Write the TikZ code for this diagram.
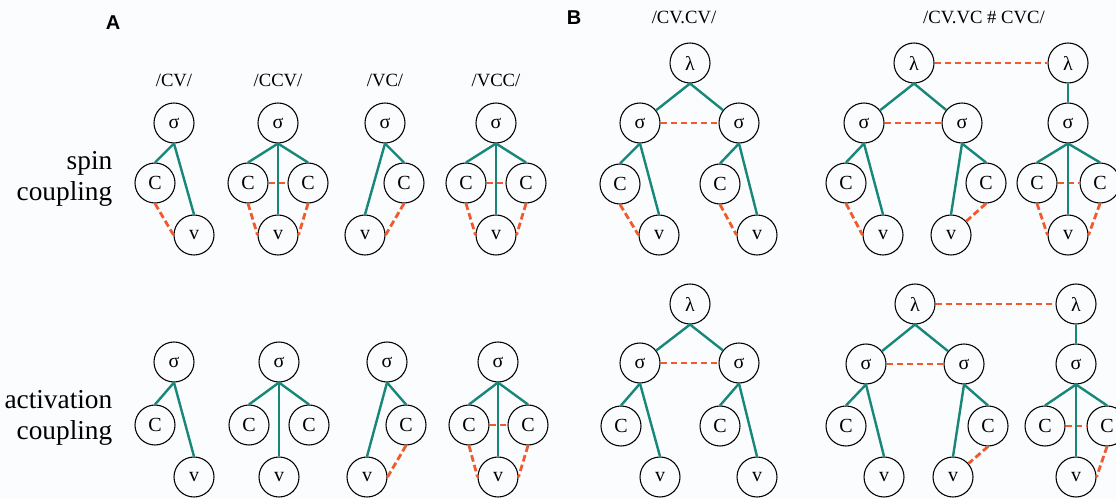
\documentclass[tikz,border=0pt]{standalone}
\usepackage{fontspec}
\setmainfont{Liberation Serif}
\newfontfamily\labsans{Liberation Sans}
\definecolor{tealline}{RGB}{22,135,120}
\definecolor{dashred}{RGB}{240,90,45}
\definecolor{bgcol}{RGB}{251,252,254}
\tikzset{
  nd/.style={circle, draw=black, line width=0.8pt, minimum size=30pt, inner sep=0pt, font=\fontsize{15}{17}\selectfont},
  gl/.style={draw=tealline, line width=1.8pt},
  dl/.style={draw=dashred, line width=2.1pt, dash pattern=on 5pt off 2.5pt},
  ttl/.style={font=\fontsize{14}{16}\selectfont, anchor=base},
  side/.style={font=\fontsize{20.5}{24}\selectfont, anchor=base east},
  panel/.style={font=\labsans\bfseries\fontsize{15}{17}\selectfont},
}
\begin{document}
\begin{tikzpicture}[x=0.75pt, y=-0.75pt]
\useasboundingbox (0,0) rectangle (1116,499);
\fill[bgcol] (0,0) rectangle (1116,499);
\clip (0,0) rectangle (1116,499);

% panel labels and titles
\node[panel] (pa) at (113,23) {A};
\node[panel] (pb) at (574,18) {B};
\node[ttl] (t1) at (174,87) {/CV/};
\node[ttl] (t2) at (278,87) {/CCV/};
\node[ttl] (t3) at (385,87) {/VC/};
\node[ttl] (t4) at (496,87) {/VCC/};
\node[ttl] (tb1) at (684,24) {/CV.CV/};
\node[ttl] (tb2) at (984,24) {/CV.VC \# CVC/};
\node[side] (spin) at (117,170) {spin};
\node[side] (coup1) at (117,200) {coupling};
\node[side] (act) at (117,408) {activation};
\node[side] (coup2) at (117,439) {coupling};

% ---------- Panel A, spin coupling ----------
\node[nd] (a1s) at (174,123) {σ};
\node[nd] (a1c) at (155,183) {C};
\node[nd] (a1v) at (194,235) {v};
\draw[gl] (a1s.south) -- (a1c.north);
\draw[gl] (a1s.south) -- (a1v.north);
\draw[dl] (a1c.south) -- (a1v.west);

\node[nd] (a2s) at (278,123) {σ};
\node[nd] (a2c) at (248,183) {C};
\node[nd] (a2d) at (308,183) {C};
\node[nd] (a2v) at (278,235) {v};
\draw[dl] (a2c.east) -- (a2d.west);
\draw[gl] (a2s.south) -- (a2c.north);
\draw[gl] (a2s.south) -- (a2d.north);
\draw[gl] (a2s.south) -- (a2v.north);
\draw[dl] (a2c.south) -- (a2v.west);
\draw[dl] (a2d.south) -- (a2v.east);

\node[nd] (a3s) at (385,123) {σ};
\node[nd] (a3c) at (404,183) {C};
\node[nd] (a3v) at (365,235) {v};
\draw[gl] (a3s.south) -- (a3c.north);
\draw[gl] (a3s.south) -- (a3v.north);
\draw[dl] (a3c.south) -- (a3v.east);

\node[nd] (a4s) at (496,123) {σ};
\node[nd] (a4c) at (466,183) {C};
\node[nd] (a4d) at (526,183) {C};
\node[nd] (a4v) at (496,235) {v};
\draw[dl] (a4c.east) -- (a4d.west);
\draw[gl] (a4s.south) -- (a4c.north);
\draw[gl] (a4s.south) -- (a4d.north);
\draw[gl] (a4s.south) -- (a4v.north);
\draw[dl] (a4c.south) -- (a4v.west);
\draw[dl] (a4d.south) -- (a4v.east);

% ---------- Panel A, activation coupling ----------
\node[nd] (b1s) at (174,362) {σ};
\node[nd] (b1c) at (155,425) {C};
\node[nd] (b1v) at (194,477) {v};
\draw[gl] (b1s.south) -- (b1c.north);
\draw[gl] (b1s.south) -- (b1v.north);

\node[nd] (b2s) at (279,362) {σ};
\node[nd] (b2c) at (249,425) {C};
\node[nd] (b2d) at (309,425) {C};
\node[nd] (b2v) at (279,477) {v};
\draw[gl] (b2s.south) -- (b2c.north);
\draw[gl] (b2s.south) -- (b2d.north);
\draw[gl] (b2s.south) -- (b2v.north);

\node[nd] (b3s) at (387,362) {σ};
\node[nd] (b3c) at (406,425) {C};
\node[nd] (b3v) at (367,477) {v};
\draw[gl] (b3s.south) -- (b3c.north);
\draw[gl] (b3s.south) -- (b3v.north);
\draw[dl] (b3c.south) -- (b3v.east);

\node[nd] (b4s) at (498,362) {σ};
\node[nd] (b4c) at (469,425) {C};
\node[nd] (b4d) at (528,425) {C};
\node[nd] (b4v) at (498,477) {v};
\draw[dl] (b4c.east) -- (b4d.west);
\draw[gl] (b4s.south) -- (b4c.north);
\draw[gl] (b4s.south) -- (b4d.north);
\draw[gl] (b4s.south) -- (b4v.north);
\draw[dl] (b4c.south) -- (b4v.west);
\draw[dl] (b4d.south) -- (b4v.east);

% ---------- Panel B, top, /CV.CV/ ----------
\node[nd] (c1l) at (690,63) {λ};
\node[nd] (c1s) at (640,123) {σ};
\node[nd] (c1t) at (739,123) {σ};
\node[nd] (c1c) at (620,184) {C};
\node[nd] (c1v) at (659,235) {v};
\node[nd] (c1d) at (720,184) {C};
\node[nd] (c1w) at (757,235) {v};
\draw[gl] (c1l.south) -- (c1s);
\draw[gl] (c1l.south) -- (c1t);
\draw[dl] (c1s) -- (c1t);
\draw[gl] (c1s.south) -- (c1c.north);
\draw[gl] (c1s.south) -- (c1v.north);
\draw[dl] (c1c.south) -- (c1v.west);
\draw[gl] (c1t.south) -- (c1d.north);
\draw[gl] (c1t.south) -- (c1w.north);
\draw[dl] (c1d.south) -- (c1w.west);

% ---------- Panel B, top, /CV.VC # CVC/ ----------
\node[nd] (d1l) at (914,63) {λ};
\node[nd] (d1m) at (1068,63) {λ};
\node[nd] (d1s) at (864,123) {σ};
\node[nd] (d1t) at (962,123) {σ};
\node[nd] (d1u) at (1068,123) {σ};
\node[nd] (d1c) at (846,183) {C};
\node[nd] (d1v) at (883,235) {v};
\node[nd] (d1w) at (951,235) {v};
\node[nd] (d1d) at (986,183) {C};
\node[nd] (d1e) at (1037,183) {C};
\node[nd] (d1f) at (1100,183) {C};
\node[nd] (d1x) at (1068,235) {v};
\draw[dl] (d1l) -- (d1m);
\draw[gl] (d1l.south) -- (d1s);
\draw[gl] (d1l.south) -- (d1t);
\draw[dl] (d1s) -- (d1t);
\draw[gl] (d1s.south) -- (d1c.north);
\draw[gl] (d1s.south) -- (d1v.north);
\draw[dl] (d1c.south) -- (d1v.west);
\draw[gl] (d1t.south) -- (d1w.north);
\draw[gl] (d1t.south) -- (d1d.north);
\draw[dl] (d1d.south) -- (d1w);
\draw[gl] (d1m) -- (d1u);
\draw[dl] (d1e.east) -- (d1f.west);
\draw[gl] (d1u.south) -- (d1e.north);
\draw[gl] (d1u.south) -- (d1f.north);
\draw[gl] (d1u.south) -- (d1x.north);
\draw[dl] (d1e.south) -- (d1x.west);
\draw[dl] (d1f.south) -- (d1x.east);

% ---------- Panel B, bottom, /CV.CV/ ----------
\node[nd] (c2l) at (690,304) {λ};
\node[nd] (c2s) at (640,363) {σ};
\node[nd] (c2t) at (739,363) {σ};
\node[nd] (c2c) at (621,426) {C};
\node[nd] (c2v) at (660,477) {v};
\node[nd] (c2d) at (720,426) {C};
\node[nd] (c2w) at (757,477) {v};
\draw[gl] (c2l.south) -- (c2s);
\draw[gl] (c2l.south) -- (c2t);
\draw[dl] (c2s) -- (c2t);
\draw[gl] (c2s.south) -- (c2c.north);
\draw[gl] (c2s.south) -- (c2v.north);
\draw[gl] (c2t.south) -- (c2d.north);
\draw[gl] (c2t.south) -- (c2w.north);

% ---------- Panel B, bottom, /CV.VC # CVC/ ----------
\node[nd] (d2l) at (915,304) {λ};
\node[nd] (d2m) at (1076,304) {λ};
\node[nd] (d2s) at (866,364) {σ};
\node[nd] (d2t) at (964,364) {σ};
\node[nd] (d2u) at (1076,364) {σ};
\node[nd] (d2c) at (846,426) {C};
\node[nd] (d2v) at (884,477) {v};
\node[nd] (d2w) at (953,477) {v};
\node[nd] (d2d) at (988,426) {C};
\node[nd] (d2e) at (1045,426) {C};
\node[nd] (d2f) at (1107,426) {C};
\node[nd] (d2x) at (1076,477) {v};
\draw[dl] (d2l) -- (d2m);
\draw[gl] (d2l.south) -- (d2s);
\draw[gl] (d2l.south) -- (d2t);
\draw[dl] (d2s) -- (d2t);
\draw[gl] (d2s.south) -- (d2c.north);
\draw[gl] (d2s.south) -- (d2v.north);
\draw[gl] (d2t.south) -- (d2w.north);
\draw[gl] (d2t.south) -- (d2d.north);
\draw[dl] (d2d.south) -- (d2w);
\draw[gl] (d2m) -- (d2u);
\draw[dl] (d2e.east) -- (d2f.west);
\draw[gl] (d2u.south) -- (d2e.north);
\draw[gl] (d2u.south) -- (d2f.north);
\draw[gl] (d2u.south) -- (d2x.north);
\draw[dl] (d2f.south) -- (d2x.east);
\end{tikzpicture}
\end{document}
